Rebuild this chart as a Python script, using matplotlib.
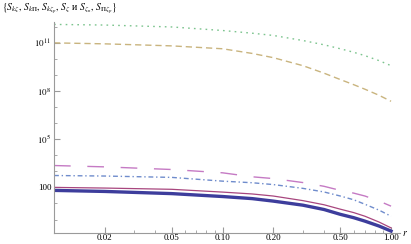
import math
import matplotlib
matplotlib.use("Agg")
import matplotlib.pyplot as plt
import matplotlib.ticker as mticker

# radial coordinate samples
r = [0.01, 0.02, 0.05, 0.1, 0.15, 0.2, 0.3, 0.4, 0.5, 0.6, 0.7, 0.85, 1.0]

# values
s_green = [1.41e12, 1.29e12, 9.8e11, 5.9e11, 4.0e11, 2.9e11, 1.4e11, 7.6e10, 4.3e10, 2.6e10, 1.6e10, 7.8e9, 3.8e9]
s_olive = [1.0e11, 8.7e10, 6.5e10, 4.3e10, 2.2e10, 1.2e10, 3.8e9, 1.3e9, 5.2e8, 2.5e8, 1.3e8, 5.4e7, 2.3e7]
s_pink = [2300, 1900, 1300, 810, 457, 355, 200, 117, 65, 44, 29, 14, 6.8]
s_dashdot = [550, 510, 420, 245, 195, 150, 87, 52, 29, 17, 8.9, 3.8, 1.6]
s_magenta = [100, 91, 76, 51, 39, 29, 15, 8.3, 4.4, 2.7, 1.6, 0.69, 0.30]
s_thick = [65, 56, 41, 27, 20, 14, 7.8, 4.2, 2.1, 1.3, 0.79, 0.39, 0.19]

xticks = [0.02, 0.05, 0.10, 0.20, 0.50, 1.00]
yticks = [1e2, 1e5, 1e8, 1e11]

plt.rcParams['font.family'] = ['Liberation Serif', 'DejaVu Serif']
plt.rcParams['mathtext.fontset'] = 'stix'

fig = plt.figure(figsize=(4.11, 2.44), dpi=100)
ax = fig.add_axes([54 / 411, 11 / 244, 346 / 411, 211 / 244])

ax.plot(r, s_green, color='#7cc48e', lw=1.0, dashes=(1.2, 3.0))
ax.plot(r, s_olive, color='#c9b47e', lw=1.0, dashes=(4.5, 2.8))
ax.plot(r, s_pink, color='#c57ac4', lw=1.0, dashes=(12, 12))
ax.plot(r, s_dashdot, color='#6f8ccc', lw=1.0, dashes=(3.5, 2, 1, 2))
ax.plot(r, s_magenta, color='#a8467e', lw=0.9)
ax.plot(r, s_thick, color='#3d3d9c', lw=2.4)

ax.set_xscale('log')
ax.set_yscale('log')
ax.set_xlim(0.01, 1.13)
ax.set_ylim(10 ** -0.84, 10 ** 12.3)

for side in ('top', 'right'):
    ax.spines[side].set_visible(False)
for side in ('left', 'bottom'):
    ax.spines[side].set_color('#9a9a9a')
    ax.spines[side].set_linewidth(0.8)

ax.set_xticks(xticks)
ax.xaxis.set_major_formatter(mticker.FuncFormatter(lambda v, p: '%.2f' % v))
ax.xaxis.set_minor_locator(mticker.LogLocator(base=10, subs=range(1, 10)))
ax.xaxis.set_minor_formatter(mticker.NullFormatter())

def ylab(v, p):
    e = int(round(math.log10(v)))
    if e == 2:
        return '100'
    return r'$10^{%d}$' % e

ax.set_yticks(yticks)
ax.yaxis.set_major_formatter(mticker.FuncFormatter(ylab))
ax.yaxis.set_minor_locator(mticker.LogLocator(base=10, subs=(1.0,), numticks=30))
ax.yaxis.set_minor_formatter(mticker.NullFormatter())

ax.tick_params(which='both', direction='in', color='#9a9a9a', labelsize=6.5)
ax.tick_params(axis='x', pad=1)
ax.tick_params(axis='y', pad=2)
ax.tick_params(which='major', length=4, width=0.8)
ax.tick_params(which='minor', length=2, width=0.6)

ax.text(1.005, 0.0, r'$r$', transform=ax.transAxes, fontsize=7, va='center', ha='left')
fig.text(0.005, 0.965,
         r'$\{S_{k\zeta},\,S_{k\Pi},\,S_{k\zeta_p},\,S_{\zeta}$ и $S_{\zeta_n},\,S_{\Pi\zeta_p}\}$',
         fontsize=7, va='center', ha='left')

fig.savefig('out.png', dpi=100)
plt.close(fig)
